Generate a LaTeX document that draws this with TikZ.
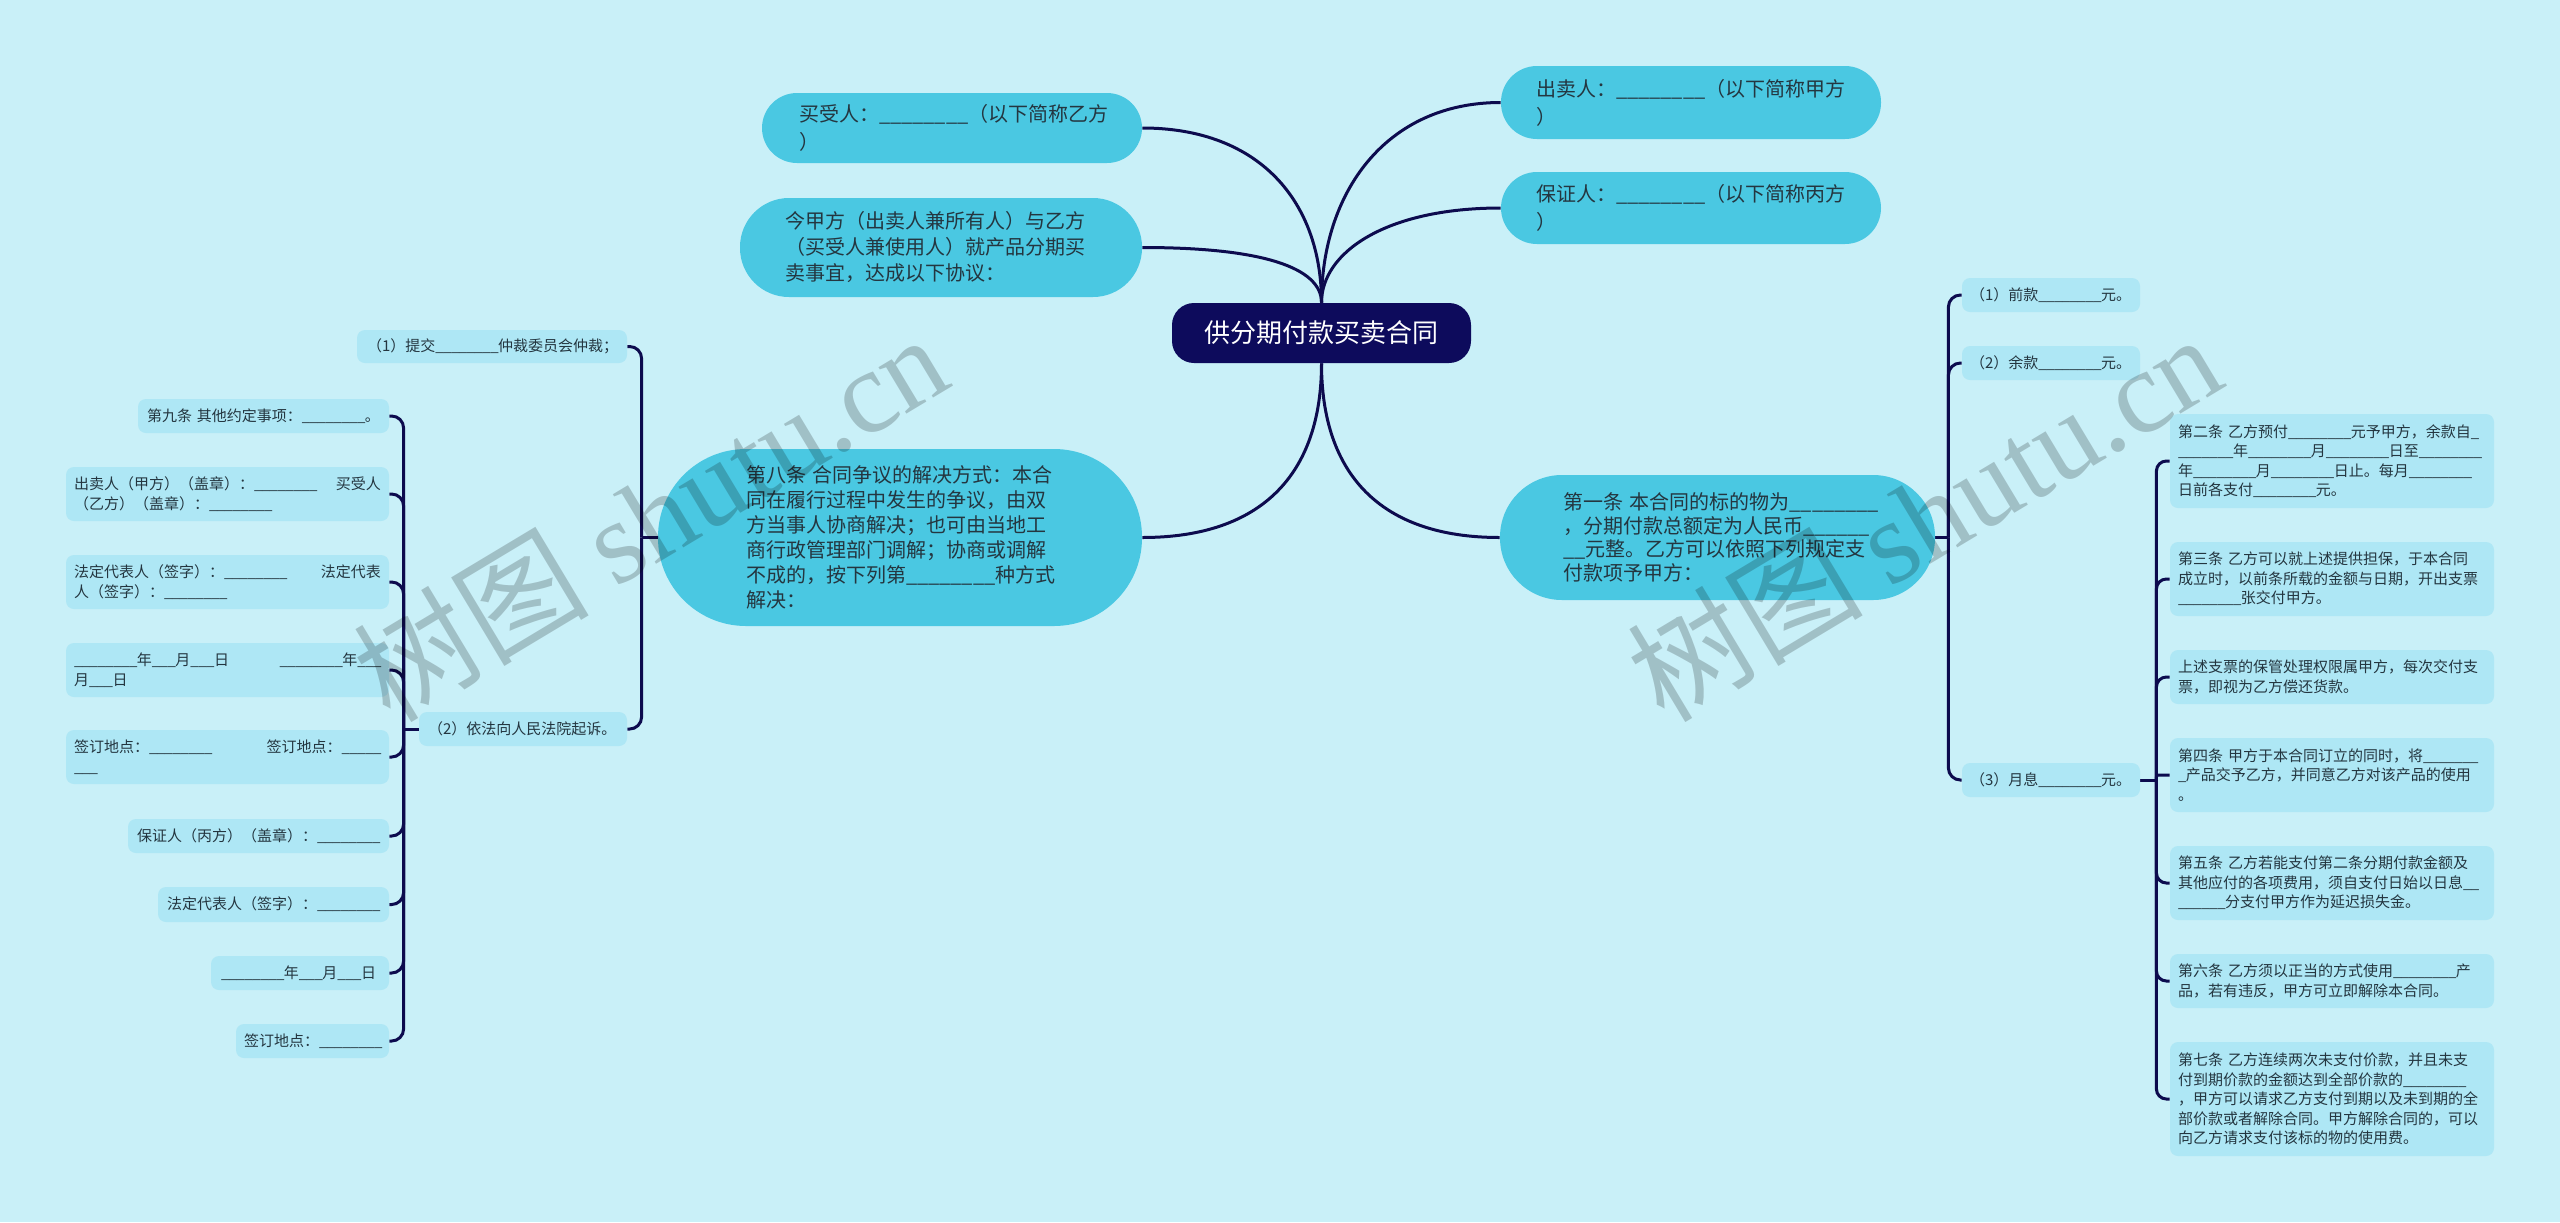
\documentclass[tikz,border=0pt]{standalone}
\usepackage{fontspec}
\setmainfont{Noto Sans CJK SC}
\newfontfamily\wmserif{Liberation Serif}
\usetikzlibrary{calc}
\definecolor{bgcol}{HTML}{C9F0F8}
\definecolor{lonecol}{HTML}{4AC8E2}
\definecolor{ltwocol}{HTML}{AEE7F5}
\definecolor{rootcol}{HTML}{0D0B5C}
\definecolor{linecol}{HTML}{0D0B4E}
\definecolor{txtcol}{HTML}{243640}
\pgfdeclarelayer{bg}
\pgfsetlayers{bg,main}
\def\usckern{0pt}
\ExplSyntaxOn
\cs_new:Npn \usc #1 { \prg_replicate:nn {#1} { \_ \kern\usckern } }
\ExplSyntaxOff
\tikzset{
  lone/.style={fill=lonecol, text=txtcol, align=left, inner ysep=0pt,
    font=\fontsize{10pt}{12.5pt}\selectfont},
  ltwo/.style={fill=ltwocol, text=txtcol, align=left, inner ysep=0pt,
    rounded corners=4pt, font=\fontsize{7.5pt}{9.75pt}\selectfont\def\usckern{-0.035em}},
  rootbox/.style={fill=rootcol, text=white, inner sep=0pt, rounded corners=11pt,
    font=\fontsize{13pt}{15pt}\selectfont},
  conn/.style={draw=linecol, line width=1.5pt},
  wmark/.style={text=black, text opacity=0.2, rotate=31, inner sep=0pt,
    font=\fontsize{59pt}{62pt}\selectfont},
}
\begin{document}
\begin{tikzpicture}[x=0.5pt,y=-0.5pt]
\begin{pgfonlayer}{bg}
\fill[bgcol] (0,0) rectangle (2560,1222);
\end{pgfonlayer}
\useasboundingbox (0,0) rectangle (2560,1222);

% root
\node[rootbox, minimum width=149.5pt, minimum height=30pt] (root) at (1321.5,333) {供分期付款买卖合同};

% level 1
\node[lone, rounded corners=17.5pt, minimum width=190pt, minimum height=35pt, inner xsep=18.5pt, text width=153pt,
  font=\fontsize{10pt}{14pt}\selectfont] (buyer) at (952,128)
  {买受人：\usc8（以下简称乙方\\）};
\node[lone, rounded corners=24.5pt, minimum width=201pt, minimum height=49.5pt, inner xsep=22.5pt, text width=156pt,
  font=\fontsize{10pt}{13pt}\selectfont] (intro) at (941,247.5)
  {今甲方（出卖人兼所有人）与乙方\\（买受人兼使用人）就产品分期买\\卖事宜，达成以下协议：};
\node[lone, rounded corners=18pt, minimum width=190pt, minimum height=36.5pt, inner xsep=17.5pt, text width=155pt,
  font=\fontsize{10pt}{14pt}\selectfont] (seller) at (1691,102.5)
  {出卖人：\usc8（以下简称甲方\\）};
\node[lone, rounded corners=18pt, minimum width=190pt, minimum height=36pt, inner xsep=17.5pt, text width=155pt,
  font=\fontsize{10pt}{14pt}\selectfont] (guar) at (1691,208)
  {保证人：\usc8（以下简称丙方\\）};
\node[lone, rounded corners=44pt, minimum width=242pt, minimum height=88.5pt, inner xsep=44pt, text width=154pt] (art8) at (900,537.5)
  {第八条~合同争议的解决方式：本合\\同在履行过程中发生的争议，由双\\方当事人协商解决；也可由当地工\\商行政管理部门调解；协商或调解\\不成的，按下列第\usc8种方式\\解决：};
\node[lone, rounded corners=31pt, minimum width=217.5pt, minimum height=62.5pt, inner xsep=31.5pt, text width=154.5pt,
  font=\fontsize{10pt}{11.75pt}\selectfont] (art1) at (1717.5,537.5)
  {第一条~本合同的标的物为\usc8\\，分期付款总额定为人民币\usc6\\\usc2元整。乙方可以依照下列规定支\\付款项予甲方：};

% right level 2
\node[ltwo, minimum width=89pt, minimum height=17pt, inner xsep=4pt, text width=81pt] (r1) at (2051,295) {（1）前款\usc8元。};
\node[ltwo, minimum width=89pt, minimum height=17pt, inner xsep=4pt, text width=81pt] (r2) at (2051,363) {（2）余款\usc8元。};
\node[ltwo, minimum width=89pt, minimum height=17pt, inner xsep=4pt, text width=81pt] (r3) at (2051,780) {（3）月息\usc8元。};

\node[ltwo, minimum width=162pt, minimum height=47pt, inner xsep=4pt, text width=154pt] (c2) at (2332,461)
  {第二条~乙方预付\usc8元予甲方，余款自\usc1\\\usc7年\usc8月\usc8日至\usc8\\年\usc8月\usc8日止。每月\usc8\\日前各支付\usc8元。};
\node[ltwo, minimum width=162pt, minimum height=37pt, inner xsep=4pt, text width=154pt] (c3) at (2332,579)
  {第三条~乙方可以就上述提供担保，于本合同\\成立时，以前条所载的金额与日期，开出支票\\\usc8张交付甲方。};
\node[ltwo, minimum width=162pt, minimum height=27pt, inner xsep=4pt, text width=154pt] (c3b) at (2332,677)
  {上述支票的保管处理权限属甲方，每次交付支\\票，即视为乙方偿还货款。};
\node[ltwo, minimum width=162pt, minimum height=37pt, inner xsep=4pt, text width=154pt] (c4) at (2332,775)
  {第四条~甲方于本合同订立的同时，将\usc7\\\usc1产品交予乙方，并同意乙方对该产品的使用\\。};
\node[ltwo, minimum width=162pt, minimum height=37pt, inner xsep=4pt, text width=154pt] (c5) at (2332,883)
  {第五条~乙方若能支付第二条分期付款金额及\\其他应付的各项费用，须自支付日始以日息\usc2\\\usc6分支付甲方作为延迟损失金。};
\node[ltwo, minimum width=162pt, minimum height=27pt, inner xsep=4pt, text width=154pt] (c6) at (2332,981)
  {第六条~乙方须以正当的方式使用\usc8产\\品，若有违反，甲方可立即解除本合同。};
\node[ltwo, minimum width=162pt, minimum height=57pt, inner xsep=4pt, text width=154pt] (c7) at (2332,1099)
  {第七条~乙方连续两次未支付价款，并且未支\\付到期价款的金额达到全部价款的\usc8\\，甲方可以请求乙方支付到期以及未到期的全\\部价款或者解除合同。甲方解除合同的，可以\\向乙方请求支付该标的物的使用费。};

% left level 2
\node[ltwo, minimum width=135pt, minimum height=16.5pt, inner xsep=5pt, text width=125pt] (l1) at (492,346.5) {（1）提交\usc8仲裁委员会仲裁；};
\node[ltwo, minimum width=104pt, minimum height=17pt, inner xsep=4.5pt, text width=95pt] (l2) at (523,729) {（2）依法向人民法院起诉。};

\node[ltwo, minimum width=125.5pt, minimum height=17pt, inner xsep=4.5pt, text width=116.5pt] (m1) at (263.5,416) {第九条~其他约定事项：\usc8。};
\node[ltwo, minimum width=161.5pt, minimum height=27pt, inner xsep=4pt, text width=153.5pt] (m2) at (227.5,494)
  {出卖人（甲方）（盖章）：\usc8\hfill 买受人\\（乙方）（盖章）：\usc8};
\node[ltwo, minimum width=161.5pt, minimum height=27pt, inner xsep=4pt, text width=153.5pt] (m3) at (227.5,582)
  {法定代表人（签字）：\usc8\hfill 法定代表\\人（签字）：\usc8};
\node[ltwo, minimum width=161.5pt, minimum height=27pt, inner xsep=4pt, text width=153.5pt] (m4) at (227.5,670)
  {\usc8年\usc3月\usc3日\hfill\usc8年\usc3\\月\usc3日};
\node[ltwo, minimum width=161.5pt, minimum height=27pt, inner xsep=4pt, text width=153.5pt] (m5) at (227.5,757)
  {签订地点：\usc8\hfill 签订地点：\usc5\\\usc3};
\node[ltwo, minimum width=130.5pt, minimum height=17pt, inner xsep=4.5pt, text width=121.5pt] (m6) at (258.5,836) {保证人（丙方）（盖章）：\usc8};
\node[ltwo, minimum width=115.5pt, minimum height=17.5pt, inner xsep=4.5pt, text width=106.5pt] (m7) at (273.5,904.5) {法定代表人（签字）：\usc8};
\node[ltwo, minimum width=89pt, minimum height=17pt, inner xsep=5pt, text width=79pt] (m8) at (300,973) {\usc8年\usc3月\usc3日};
\node[ltwo, minimum width=76.5pt, minimum height=17pt, inner xsep=4pt, text width=68.5pt] (m9) at (312.5,1041) {签订地点：\usc8};

% connectors
\begin{pgfonlayer}{bg}
\draw[conn] (root.north) .. controls +(0,-100) and +(118,0) .. (buyer.east);
\draw[conn] (root.north) .. controls +(0,-35) and +(120,0) .. (intro.east);
\draw[conn] (root.north) .. controls +(0,-110) and +(-115,0) .. (seller.west);
\draw[conn] (root.north) .. controls +(0,-50) and +(-115,0) .. (guar.west);
\draw[conn] (root.south) .. controls +(0,110) and +(120,0) .. (art8.east);
\draw[conn] (root.south) .. controls +(0,110) and +(-120,0) .. (art1.west);

\coordinate (bA) at ($(art1.east)+(13,0)$);
\draw[conn] (art1.east) -- (bA);
\draw[conn, rounded corners=6pt] (bA) |- (r1.west);
\draw[conn, rounded corners=6pt] (bA) |- (r2.west);
\draw[conn, rounded corners=6pt] (bA) |- (r3.west);

\coordinate (bB) at ($(r3.east)+(16,0)$);
\draw[conn] (r3.east) -- (bB);
\draw[conn, rounded corners=5pt] (bB) |- (c2.west);
\draw[conn, rounded corners=5pt] (bB) |- (c3.west);
\draw[conn, rounded corners=5pt] (bB) |- (c3b.west);
\draw[conn, rounded corners=1pt] (bB) |- (c4.west);
\draw[conn, rounded corners=5pt] (bB) |- (c5.west);
\draw[conn, rounded corners=5pt] (bB) |- (c6.west);
\draw[conn, rounded corners=5pt] (bB) |- (c7.west);

\coordinate (bC) at ($(art8.west)+(-16,0)$);
\draw[conn] (art8.west) -- (bC);
\draw[conn, rounded corners=6pt] (bC) |- (l1.east);
\draw[conn, rounded corners=6pt] (bC) |- (l2.east);

\coordinate (bD) at ($(l2.west)+(-15,0)$);
\draw[conn] (l2.west) -- (bD);
\foreach \m in {m1,m2,m3,m4,m5,m6,m7,m8,m9}
  \draw[conn, rounded corners=6pt] (bD) |- (\m.east);
\end{pgfonlayer}

% watermarks
\node[wmark] (wmA) at (650,516) {树图~{\wmserif shutu.cn}};
\node[wmark] (wmB) at (1924,516) {树图~{\wmserif shutu.cn}};
\end{tikzpicture}
\end{document}
